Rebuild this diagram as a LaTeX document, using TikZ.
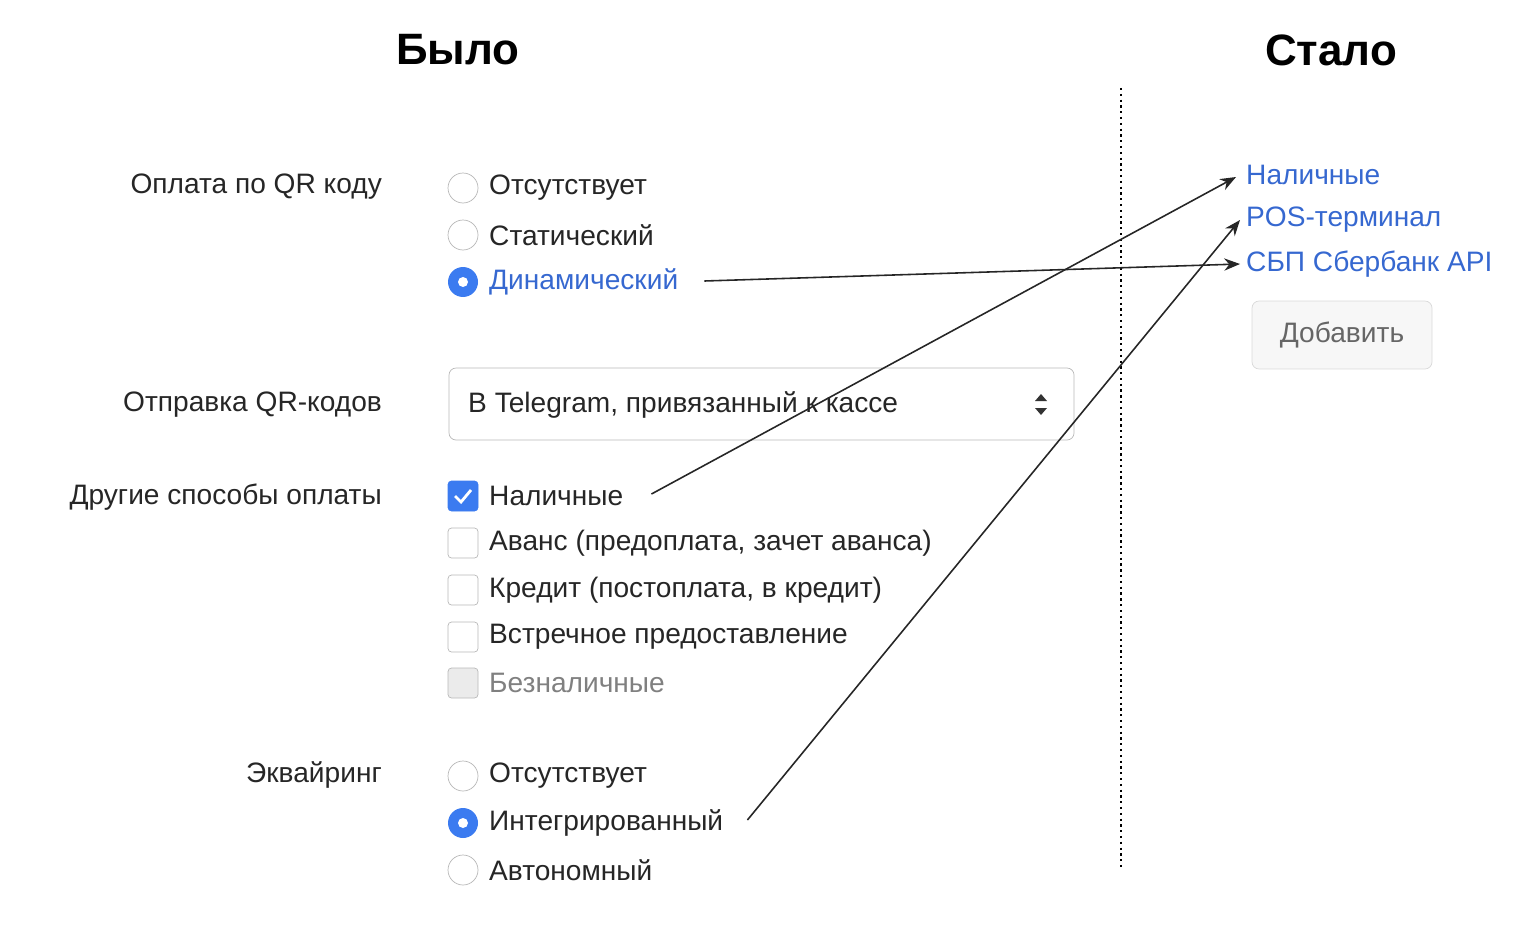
\documentclass[tikz,border=0pt]{standalone}
\usepackage{fontspec}
\setmainfont{Liberation Sans}
\usetikzlibrary{arrows.meta,calc}
\definecolor{linkblue}{HTML}{3668D0}
\definecolor{radioblue}{HTML}{3B7BF0}
\definecolor{boxgray}{HTML}{B8B8B8}
\tikzset{
  lbl/.style={anchor=east,font=\fontsize{16}{19}\selectfont,text=black!85},
  opt/.style={anchor=west,font=\fontsize{16}{19}\selectfont,text=black!85},
  link/.style={anchor=west,font=\fontsize{16}{19}\selectfont,text=linkblue},
  head/.style={font=\fontsize{25}{30}\selectfont\bfseries},
  radio/.style={draw=boxgray,fill=white,circle,minimum size=0.6cm,inner sep=0pt},
  radioon/.style={fill=radioblue,circle,minimum size=0.6cm,inner sep=0pt,path picture={\fill[white] (path picture bounding box.center) circle (0.1cm);}},
  chk/.style={draw=boxgray,fill=white,rounded corners=2pt,minimum size=0.6cm,inner sep=0pt},
  conn/.style={draw=black!85,line width=0.9pt,-{Stealth[length=9pt,width=7pt]}}
}
\begin{document}
\begin{tikzpicture}[x=0.02cm,y=-0.02cm]
\useasboundingbox (0,0) rectangle (1540,926);
% headings
\node[head] (was) at (458,50) {Было};
\node[head] (now) at (1331,50) {Стало};
\draw[dotted,line width=1.3pt] (1121,88) -- (1121,870);
% left labels
\node[lbl] (lqr) at (388,187) {Оплата по QR коду};
\node[lbl] (lsend) at (388,405) {Отправка QR-кодов};
\node[lbl] (lother) at (388,497) {Другие способы оплаты};
\node[lbl] (lacq) at (388,775) {Эквайринг};
% QR radios
\node[radio] (r1) at (463,188) {};
\node[opt] (t1) at (483,188) {Отсутствует};
\node[radio] (r2) at (463,235) {};
\node[opt] (t2) at (483,235) {Статический};
\node[radioon] (r3) at (463,282) {};
\node[opt,text=linkblue] (t3) at (483,282) {Динамический};
% select box
\draw[boxgray,rounded corners=4pt] (449,368) rectangle (1074,440);
\node[opt] (sel) at (462,405) {В Telegram, привязанный к кассе};
\fill[black!80] (1035,401) -- (1047,401) -- (1041,394) -- cycle;
\fill[black!80] (1035,408) -- (1047,408) -- (1041,415) -- cycle;
% checkboxes
\node[chk,draw=radioblue,fill=radioblue] (c1) at (463,496) {};
\draw[white,line width=1.6pt] (455,496) -- (461,502) -- (471,490);
\node[opt] (k1) at (483,496) {Наличные};
\node[chk] (c2) at (463,543) {};
\node[opt] (k2) at (483,543) {Аванс (предоплата, зачет аванса)};
\node[chk] (c3) at (463,590) {};
\node[opt] (k3) at (483,590) {Кредит (постоплата, в кредит)};
\node[chk] (c4) at (463,637) {};
\node[opt] (k4) at (483,637) {Встречное предоставление};
\node[chk,fill=black!8] (c5) at (463,683) {};
\node[opt,text=black!50] (k5) at (483,683) {Безналичные};
% acquiring radios
\node[radio] (a1) at (463,776) {};
\node[opt] (s1) at (483,776) {Отсутствует};
\node[radioon] (a2) at (463,823) {};
\node[opt] (s2) at (483,823) {Интегрированный};
\node[radio] (a3) at (463,870) {};
\node[opt] (s3) at (483,870) {Автономный};
% right side
\node[link] (cash) at (1240,175) {Наличные};
\node[link] (pos) at (1240,220) {POS-терминал};
\node[link] (sbp) at (1240,264) {СБП Сбербанк API};
\node[draw=black!15,fill=black!3,rounded corners=4pt,minimum width=3.6cm,minimum height=1.36cm,font=\fontsize{16}{19}\selectfont,text=black!60] (add) at (1342,335) {Добавить};
% arrows
\draw[conn] ($(t3.east)+(20,-1)$) -- (sbp.west);
\draw[conn] ($(k1.east)+(22,-2)$) -- ($(cash.west)+(-4,2)$);
\draw[conn] ($(s2.east)+(18,-3)$) -- (pos.west);
\end{tikzpicture}
\end{document}
